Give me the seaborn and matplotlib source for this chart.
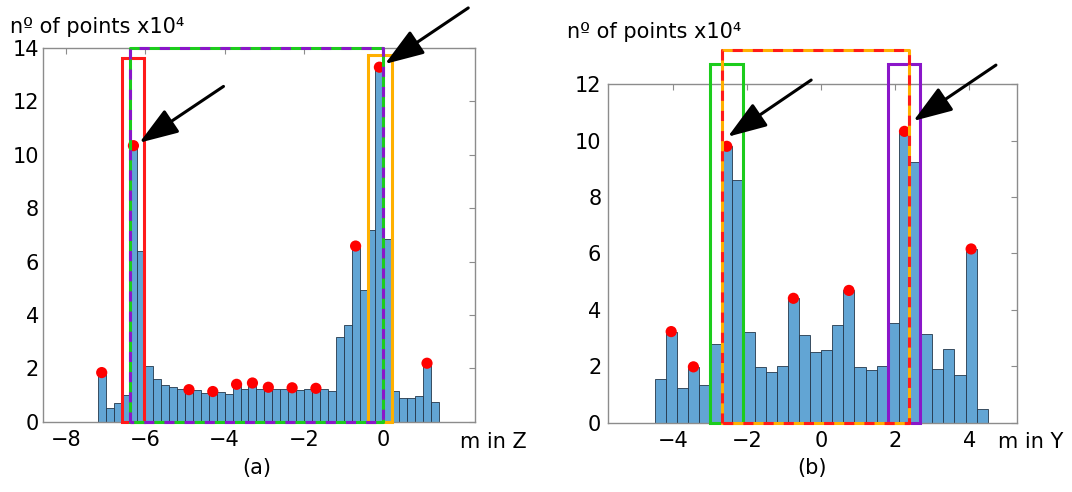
import numpy as np
import pandas as pd
import matplotlib
matplotlib.use("Agg")
import matplotlib.pyplot as plt
from matplotlib.patches import Rectangle
import seaborn as sns

# (a) histogram of m in Z, bins of 0.2 from -7.2 to 1.4
z_edges = np.round(np.arange(-7.2, 1.45, 0.2), 2)
z_counts = [1.84, 0.51, 0.69, 1.00, 10.34, 6.38, 2.07, 1.60, 1.38, 1.29,
            1.22, 1.20, 1.17, 1.07, 1.13, 1.10, 1.05, 1.40, 1.22, 1.45,
            1.23, 1.29, 1.23, 1.22, 1.27, 1.20, 1.23, 1.25, 1.22, 1.15,
            3.16, 3.62, 6.58, 4.93, 7.18, 13.28, 6.83, 1.15, 0.90, 0.90,
            0.96, 2.19, 0.75]
z_peaks = [-7.1, -6.3, -4.9, -4.3, -3.7, -3.3, -2.9, -2.3, -1.7, -0.7, -0.1, 1.1]

# (b) histogram of m in Y, bins of 0.3 from -4.5 to 4.5
y_edges = np.round(np.arange(-4.5, 4.55, 0.3), 2)
y_counts = [1.54, 3.23, 1.22, 1.98, 1.34, 2.79, 9.80, 8.60, 3.20, 1.99,
            1.79, 2.01, 4.41, 3.10, 2.50, 2.58, 3.47, 4.69, 1.97, 1.87,
            2.01, 3.53, 10.33, 9.23, 3.14, 1.91, 2.62, 1.69, 6.16, 0.47]
y_peaks = [-4.05, -3.45, -2.55, -0.75, 0.75, 2.25, 4.05]

sns.set_style("white")
plt.rcParams["font.family"] = ["DejaVu Sans"]
plt.rcParams["text.color"] = "black"

BAR = "#62a5d4"
GREY = "#8c8c8c"

fig = plt.figure(figsize=(10.72, 4.92), dpi=100)
ax1 = fig.add_axes([0.0401, 0.1429, 0.403, 0.7596])
ax2 = fig.add_axes([0.5674, 0.1409, 0.381, 0.6878])


def draw_hist(ax, edges, counts, peaks):
    df = pd.DataFrame({"m": (edges[:-1] + edges[1:]) / 2, "n": counts})
    width = float(edges[1] - edges[0])
    sns.histplot(data=df, x="m", weights="n", binwidth=width,
                 binrange=(float(edges[0]), float(edges[-1])), ax=ax, color=BAR,
                 edgecolor="#23374a", linewidth=0.6, alpha=1)
    idx = np.searchsorted(edges, peaks) - 1
    pk = pd.DataFrame({"m": peaks, "n": np.array(counts)[idx]})
    sns.scatterplot(data=pk, x="m", y="n", ax=ax, color="red",
                    s=65, edgecolor="none", zorder=5)
    ax.set_xlabel("")
    ax.set_ylabel("")
    for s in ax.spines.values():
        s.set_color(GREY)
        s.set_linewidth(1)
    ax.tick_params(direction="in", length=4, color=GREY, labelsize=15,
                   labelcolor="black", top=True, right=True,
                   labeltop=False, labelright=False)
    ax.tick_params(axis="x", pad=6)
    ax.tick_params(axis="y", pad=3)


def rect(ax, x0, x1, top, color, lw=2.2):
    ax.add_patch(Rectangle((x0, 0), x1 - x0, top, fill=False, edgecolor=color,
                           lw=lw, clip_on=False, zorder=6))


def dashed_rect(ax, x0, x1, top, base, dash, lw=2.2):
    xs = [x0, x0, x1, x1, x0]
    ys = [0, top, top, 0, 0]
    ax.plot(xs, ys, color=base, lw=lw, clip_on=False, zorder=7)
    ax.plot(xs, ys, color=dash, lw=lw, ls=(0, (3.3, 3.3)), clip_on=False, zorder=7)


def arrow(ax, tail, tip):
    ax.annotate("", xy=tip, xytext=tail, xycoords="data", annotation_clip=False,
                arrowprops=dict(arrowstyle="-|>,head_length=1.2,head_width=0.42",
                                color="black", lw=2.2, mutation_scale=20,
                                shrinkA=0, shrinkB=0), zorder=8)


# panel (a)
draw_hist(ax1, z_edges, z_counts, z_peaks)
ax1.set_xlim(-8.58, 2.31)
ax1.set_ylim(0, 14)
ax1.set_xticks([-8, -6, -4, -2, 0])
ax1.set_yticks(range(0, 15, 2))
dashed_rect(ax1, -6.39, -0.01, 14.0, "#1ccc1c", "#8a16c9")
rect(ax1, -6.6, -6.03, 13.63, "#ff1a1a")
rect(ax1, -0.39, 0.22, 13.72, "#ffb000")
arrow(ax1, (-4.03, 12.56), (-6.15, 10.45))
arrow(ax1, (2.14, 15.5), (0.04, 13.4))

# panel (b)
draw_hist(ax2, y_edges, y_counts, y_peaks)
ax2.set_xlim(-5.75, 5.28)
ax2.set_ylim(0, 12)
ax2.set_xticks([-4, -2, 0, 2, 4])
ax2.set_yticks(range(0, 13, 2))
ax2.tick_params(axis="y", pad=5)
dashed_rect(ax2, -2.67, 2.36, 13.23, "#ffb000", "#ff1a1a")
rect(ax2, -3.0, -2.11, 12.73, "#1ccc1c")
rect(ax2, 1.80, 2.67, 12.72, "#8a16c9")
arrow(ax2, (-0.27, 12.15), (-2.52, 10.14))
arrow(ax2, (4.72, 12.68), (2.49, 10.7))

fig.text(10 / 1072, 1 - 33 / 492, "nº of points x10⁴", fontsize=15, va="baseline")
fig.text(567 / 1072, 1 - 38 / 492, "nº of points x10⁴", fontsize=15, va="baseline")
fig.text(460 / 1072, 1 - 442 / 492, "m in Z", fontsize=15, va="center")
fig.text(998 / 1072, 1 - 442 / 492, "m in Y", fontsize=15, va="center")
fig.text(257 / 1072, 1 - 468 / 492, "(a)", fontsize=15, ha="center", va="center")
fig.text(812 / 1072, 1 - 468 / 492, "(b)", fontsize=15, ha="center", va="center")

fig.savefig("out.png", dpi=100)
